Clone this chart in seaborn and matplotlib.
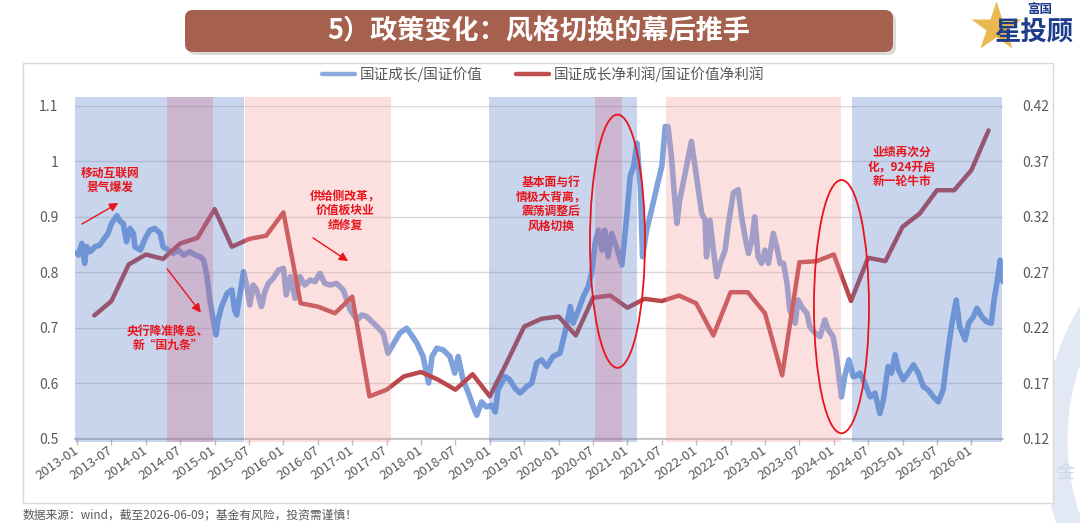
import matplotlib
matplotlib.use('Agg')
import matplotlib.pyplot as plt
import matplotlib.transforms as mtransforms
import seaborn as sns
from matplotlib.lines import Line2D
from matplotlib.patches import Ellipse, FancyBboxPatch, Rectangle, Arc

# Blue line: 国证成长/国证价值 (decimal year, ratio)
growth_year = [
    2013.00, 2013.02, 2013.07, 2013.11, 2013.14, 2013.19, 2013.26, 2013.33, 2013.38, 2013.45,
    2013.50, 2013.58, 2013.63, 2013.67, 2013.72, 2013.77, 2013.82, 2013.84, 2013.92, 2013.99,
    2014.06, 2014.13, 2014.21, 2014.25, 2014.33, 2014.40, 2014.47, 2014.55, 2014.64, 2014.72,
    2014.79, 2014.84, 2014.89, 2014.93, 2014.98, 2015.02, 2015.05, 2015.10, 2015.18, 2015.25,
    2015.29, 2015.32, 2015.37, 2015.42, 2015.47, 2015.51, 2015.56, 2015.61, 2015.68, 2015.73,
    2015.78, 2015.85, 2015.93, 2016.00, 2016.04, 2016.10, 2016.17, 2016.24, 2016.31, 2016.39,
    2016.46, 2016.53, 2016.60, 2016.68, 2016.77, 2016.87, 2016.92, 2016.97, 2017.07, 2017.14,
    2017.21, 2017.26, 2017.36, 2017.45, 2017.52, 2017.69, 2017.79, 2017.86, 2017.94, 2018.03,
    2018.11, 2018.16, 2018.23, 2018.32, 2018.42, 2018.49, 2018.54, 2018.61, 2018.69, 2018.76,
    2018.81, 2018.88, 2018.95, 2019.03, 2019.08, 2019.12, 2019.22, 2019.29, 2019.37, 2019.44,
    2019.54, 2019.61, 2019.68, 2019.75, 2019.83, 2019.92, 2020.02, 2020.09, 2020.17, 2020.21,
    2020.29, 2020.36, 2020.43, 2020.48, 2020.53, 2020.58, 2020.63, 2020.67, 2020.72, 2020.77,
    2020.84, 2020.92, 2020.99, 2021.04, 2021.09, 2021.14, 2021.19, 2021.22, 2021.28, 2021.35,
    2021.43, 2021.50, 2021.55, 2021.59, 2021.64, 2021.69, 2021.72, 2021.76, 2021.84, 2021.93,
    2021.99, 2022.08, 2022.13, 2022.15, 2022.20, 2022.25, 2022.30, 2022.35, 2022.42, 2022.47,
    2022.54, 2022.61, 2022.66, 2022.71, 2022.76, 2022.81, 2022.85, 2022.90, 2022.95, 2023.00,
    2023.05, 2023.12, 2023.17, 2023.22, 2023.27, 2023.32, 2023.36, 2023.44, 2023.48, 2023.53,
    2023.61, 2023.65, 2023.73, 2023.80, 2023.87, 2023.92, 2023.99, 2024.04, 2024.11, 2024.16,
    2024.22, 2024.28, 2024.31, 2024.38, 2024.45, 2024.53, 2024.60, 2024.67, 2024.72, 2024.79,
    2024.84, 2024.89, 2024.94, 2025.01, 2025.08, 2025.16, 2025.23, 2025.30, 2025.37, 2025.45,
    2025.52, 2025.59, 2025.65, 2025.71, 2025.78, 2025.83, 2025.91, 2025.96, 2026.03, 2026.08,
    2026.15, 2026.22, 2026.29, 2026.33, 2026.37, 2026.42, 2026.44, 2026.46]
growth_ratio = [
    0.835, 0.831, 0.852, 0.816, 0.846, 0.837, 0.846, 0.849, 0.858, 0.870,
    0.888, 0.902, 0.891, 0.888, 0.855, 0.879, 0.870, 0.846, 0.840, 0.861,
    0.876, 0.879, 0.870, 0.846, 0.840, 0.834, 0.840, 0.831, 0.837, 0.831,
    0.828, 0.822, 0.792, 0.750, 0.714, 0.687, 0.714, 0.738, 0.762, 0.768,
    0.732, 0.723, 0.762, 0.801, 0.774, 0.741, 0.777, 0.768, 0.738, 0.765,
    0.780, 0.789, 0.804, 0.807, 0.759, 0.792, 0.753, 0.792, 0.777, 0.786,
    0.783, 0.798, 0.780, 0.777, 0.780, 0.768, 0.750, 0.732, 0.714, 0.723,
    0.720, 0.714, 0.702, 0.690, 0.654, 0.690, 0.699, 0.687, 0.672, 0.648,
    0.600, 0.648, 0.663, 0.660, 0.648, 0.618, 0.648, 0.606, 0.582, 0.557,
    0.542, 0.566, 0.557, 0.560, 0.548, 0.588, 0.612, 0.606, 0.590, 0.582,
    0.594, 0.600, 0.636, 0.642, 0.630, 0.648, 0.654, 0.690, 0.738, 0.708,
    0.732, 0.756, 0.774, 0.798, 0.852, 0.876, 0.840, 0.876, 0.828, 0.870,
    0.846, 0.813, 0.900, 0.973, 0.991, 1.033, 0.949, 0.828, 0.876, 0.912,
    0.955, 0.991, 1.063, 1.063, 1.009, 0.930, 0.888, 0.930, 0.979, 1.036,
    0.985, 0.906, 0.894, 0.828, 0.894, 0.840, 0.792, 0.816, 0.840, 0.888,
    0.943, 0.949, 0.900, 0.864, 0.834, 0.858, 0.900, 0.828, 0.816, 0.840,
    0.816, 0.870, 0.846, 0.816, 0.816, 0.780, 0.732, 0.708, 0.750, 0.738,
    0.726, 0.702, 0.690, 0.684, 0.714, 0.696, 0.684, 0.648, 0.575, 0.612,
    0.642, 0.612, 0.612, 0.618, 0.600, 0.575, 0.582, 0.545, 0.569, 0.630,
    0.618, 0.651, 0.624, 0.606, 0.618, 0.633, 0.618, 0.594, 0.588, 0.575,
    0.566, 0.588, 0.648, 0.702, 0.750, 0.702, 0.678, 0.708, 0.720, 0.735,
    0.720, 0.711, 0.708, 0.750, 0.780, 0.822, 0.798, 0.783]

# Red line: 国证成长净利润/国证价值净利润, quarter ends (right axis)
profit_year = [
    2013.25, 2013.50, 2013.75, 2014.00, 2014.25, 2014.50, 2014.75, 2015.00, 2015.25, 2015.50,
    2015.75, 2016.00, 2016.25, 2016.50, 2016.75, 2017.00, 2017.25, 2017.50, 2017.75, 2018.00,
    2018.25, 2018.50, 2018.75, 2019.00, 2019.25, 2019.50, 2019.75, 2020.00, 2020.25, 2020.50,
    2020.75, 2021.00, 2021.25, 2021.50, 2021.75, 2022.00, 2022.25, 2022.50, 2022.75, 2023.00,
    2023.25, 2023.50, 2023.75, 2024.00, 2024.25, 2024.50, 2024.75, 2025.00, 2025.25, 2025.50,
    2025.75, 2026.00, 2026.25]
profit_ratio = [
    0.231, 0.244, 0.277, 0.286, 0.282, 0.296, 0.301, 0.327, 0.293, 0.300,
    0.303, 0.324, 0.242, 0.239, 0.233, 0.248, 0.158, 0.164, 0.176, 0.180,
    0.173, 0.164, 0.178, 0.158, 0.189, 0.221, 0.228, 0.230, 0.213, 0.247,
    0.249, 0.238, 0.246, 0.244, 0.249, 0.242, 0.213, 0.252, 0.252, 0.233,
    0.177, 0.279, 0.280, 0.286, 0.244, 0.283, 0.280, 0.311, 0.323, 0.344,
    0.344, 0.362, 0.398]

# shaded periods (decimal years)
blue_periods = [(2012.97, 2015.42), (2018.99, 2021.14), (2024.27, 2026.45)]
pink_periods = [(2015.44, 2017.56), (2021.56, 2024.10)]
mixed_periods = [(2014.31, 2014.98), (2020.53, 2020.92)]

left_ticks = [0.5, 0.6, 0.7, 0.8, 0.9, 1.0, 1.1]
left_labels = ['0.5', '0.6', '0.7', '0.8', '0.9', '1', '1.1']
right_ticks = [0.12, 0.17, 0.22, 0.27, 0.32, 0.37, 0.42]
right_labels = ['0.12', '0.17', '0.22', '0.27', '0.32', '0.37', '0.42']
x_labels = ['2013-01', '2013-07', '2014-01', '2014-07', '2015-01', '2015-07', '2016-01',
            '2016-07', '2017-01', '2017-07', '2018-01', '2018-07', '2019-01', '2019-07',
            '2020-01', '2020-07', '2021-01', '2021-07', '2022-01', '2022-07', '2023-01',
            '2023-07', '2024-01', '2024-07', '2025-01', '2025-07', '2026-01']
x_ticks = [2013 + 0.5 * i for i in range(len(x_labels))]

blue_line = '#7fa1dc'
red_line = '#b9474b'
note_red = '#e8141c'
gray_text = '#595959'

sns.set_theme(style='white')
plt.rcParams['font.family'] = ['Noto Sans CJK SC', 'DejaVu Sans']
plt.rcParams['axes.unicode_minus'] = False

W, H = 1080, 523
fig = plt.figure(figsize=(W / 100, H / 100), dpi=100)
fig.patch.set_facecolor('white')

# background layer in pixel units
bg = fig.add_axes([0, 0, 1, 1], zorder=0)
bg.set_xlim(0, W)
bg.set_ylim(H, 0)
bg.axis('off')

# watermark pieces
bg.add_patch(Arc((1300, 440), 490, 490, theta1=130, theta2=240, lw=18, color='#e2e8f4'))
bg.add_patch(Arc((1160, 760), 520, 520, theta1=110, theta2=160, lw=22, color='#e6ebf5'))
bg.text(1065, 473, '金', fontsize=13, color='#cdd8ec', ha='center', va='center')

# chart frame
bg.add_patch(Rectangle((23, 63), 1030, 440, fc='white', ec='#d9d9d9', lw=1))

# title banner
bg.add_patch(FancyBboxPatch((188, 13), 708, 42, boxstyle='round,pad=0,rounding_size=8',
                            fc='#9a9a9a', ec='none', alpha=0.35))
bg.add_patch(FancyBboxPatch((185, 10), 708, 42, boxstyle='round,pad=0,rounding_size=8',
                            fc='#a5614e', ec='none'))
bg.text(539, 31, '5）政策变化：风格切换的幕后推手', ha='center', va='center',
        color='white', fontsize=19.5, fontweight='bold')

# logo
bg.plot([996], [27], marker='*', ms=38, color='#e9b94f', mec='none')
bg.text(1040, 9, '富国', ha='center', va='center', fontsize=9, fontweight='bold', color='#1d3d8a')
bg.text(1034, 33, '星投顾', ha='center', va='center', fontsize=19, fontweight='bold', color='#1d3d8a')

# footer
bg.text(23, 515, '数据来源：wind，截至2026-06-09；基金有风险，投资需谨慎！',
        ha='left', va='center', fontsize=8.5, color=gray_text)

# main axes
ax = fig.add_axes([75 / W, (H - 438.5) / H, (1003 - 75) / W, 332.5 / H], zorder=2)
ax.patch.set_alpha(0)
ax2 = ax.twinx()
ax2.set_zorder(3)

sns.lineplot(x=growth_year, y=growth_ratio, ax=ax, color=blue_line, lw=4,
             sort=False, estimator=None, legend=False)
sns.lineplot(x=profit_year, y=profit_ratio, ax=ax2, color=red_line, lw=3.2,
             sort=False, estimator=None, legend=False)

for a, b in blue_periods:
    ax2.axvspan(a, b, ymin=-0.01, ymax=1.027, color='#4b76c6', alpha=0.3, lw=0,
                clip_on=False, zorder=5)
for a, b in pink_periods:
    ax2.axvspan(a, b, ymin=-0.01, ymax=1.027, color='#f89898', alpha=0.3, lw=0,
                clip_on=False, zorder=5)
for a, b in mixed_periods:
    ax2.axvspan(a, b, ymin=-0.01, ymax=1.027, color='#d66f8a', alpha=0.3, lw=0,
                clip_on=False, zorder=6)

ax.set_xlim(2012.97, 2026.46)
ax.set_ylim(0.5, 1.1)
ax2.set_ylim(0.12, 0.42)
ax.set_yticks(left_ticks)
ax.set_yticklabels(left_labels)
ax2.set_yticks(right_ticks)
ax2.set_yticklabels(right_labels)
ax.set_xticks(x_ticks)
ax.set_xticklabels(x_labels, rotation=35, ha='right', va='center', rotation_mode='anchor')
shift = mtransforms.ScaledTranslation(12 / 100, -4 / 100, fig.dpi_scale_trans)
for lab in ax.get_xticklabels():
    lab.set_transform(lab.get_transform() + shift)
ax.grid(axis='y', color='#d9d9d9', lw=1)
ax.grid(axis='x', visible=False)
ax2.grid(False)
for s in ['top', 'left', 'right']:
    ax.spines[s].set_visible(False)
    ax2.spines[s].set_visible(False)
ax2.spines['bottom'].set_visible(False)
ax.spines['bottom'].set_color('#bfbfbf')
ax.tick_params(axis='y', length=0, pad=12, labelsize=10, labelcolor=gray_text)
ax2.tick_params(axis='y', length=0, pad=14, labelsize=10, labelcolor=gray_text)
ax.tick_params(axis='x', length=4, width=1, color='#bfbfbf', direction='out', pad=4,
               labelsize=9.5, labelcolor=gray_text, bottom=True)
ax.set_xlabel('')
ax.set_ylabel('')
ax2.set_ylabel('')

# annotations (left-axis data coordinates)
tr = ax.transData
note_kw = dict(fontsize=8.5, fontweight='bold', color=note_red, ha='center', va='center',
               linespacing=1.15, transform=tr, zorder=10)
arrow_kw = dict(arrowstyle='-|>', color=note_red, lw=1, mutation_scale=13, shrinkA=0, shrinkB=0)

ax2.text(2013.48, 0.966, '移动互联网\n景气爆发', **note_kw)
ax2.annotate('', xy=(2013.60, 0.925), xytext=(2013.07, 0.887), xycoords=tr, textcoords=tr,
             arrowprops=arrow_kw, zorder=10)
ax2.text(2014.32, 0.681, '央行降准降息、\n新“国九条”', **note_kw)
ax2.annotate('', xy=(2014.80, 0.727), xytext=(2014.31, 0.806), xycoords=tr, textcoords=tr,
             arrowprops=arrow_kw, zorder=10)
ax2.text(2016.90, 0.911, '供给侧改革，\n价值板块业\n绩修复', **note_kw)
ax2.annotate('', xy=(2016.94, 0.820), xytext=(2016.43, 0.862), xycoords=tr, textcoords=tr,
             arrowprops=arrow_kw, zorder=10)
ax2.text(2019.89, 0.923, '基本面与行\n情极大背离，\n震荡调整后\n风格切换', **note_kw)
ax2.text(2024.99, 0.990, '业绩再次分\n化，924开启\n新一轮牛市', **note_kw)

for cx, cy in [(2020.856, 0.856), (2024.112, 0.738)]:
    ax2.add_patch(Ellipse((cx, cy), 0.80, 0.457, transform=tr, fill=False, ec=note_red,
                          lw=1.3, clip_on=False, zorder=10))

# legend
handles = [Line2D([], [], color='#8eaadb', lw=3.2), Line2D([], [], color='#c0504d', lw=3.2)]
fig.legend(handles, ['国证成长/国证价值', '国证成长净利润/国证价值净利润'], loc='center',
           bbox_to_anchor=(543 / W, 1 - 74 / H), ncol=2, frameon=False, fontsize=10.5,
           handlelength=2.3, handletextpad=0.3, columnspacing=2.3, labelcolor=gray_text)

fig.savefig('out.png', dpi=100, facecolor='white')
